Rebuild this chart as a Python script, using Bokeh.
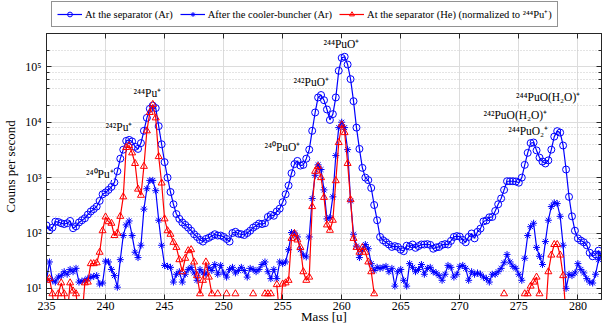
from bokeh.plotting import figure
from bokeh.layouts import column
from bokeh.models import (Range1d, LogAxis, LinearAxis, SingleIntervalTicker, LogTicker,
                          CustomJSTickFormatter, Legend, LegendItem, Label, ColumnDataSource)
from bokeh.embed import file_html
from bokeh.resources import INLINE

NaN = float("nan")

# mass scan [u]
mass = [
    235.0, 235.25, 235.5, 235.75, 236.0, 236.25, 236.5, 236.75, 237.0, 237.25,
    237.5, 237.75, 238.0, 238.25, 238.5, 238.75, 239.0, 239.25, 239.5, 239.75,
    240.0, 240.25, 240.5, 240.75, 241.0, 241.25, 241.5, 241.75, 242.0, 242.25,
    242.5, 242.75, 243.0, 243.25, 243.5, 243.75, 244.0, 244.25, 244.5, 244.75,
    245.0, 245.25, 245.5, 245.75, 246.0, 246.25, 246.5, 246.75, 247.0, 247.25,
    247.5, 247.75, 248.0, 248.25, 248.5, 248.75, 249.0, 249.25, 249.5, 249.75,
    250.0, 250.25, 250.5, 250.75, 251.0, 251.25, 251.5, 251.75, 252.0, 252.25,
    252.5, 252.75, 253.0, 253.25, 253.5, 253.75, 254.0, 254.25, 254.5, 254.75,
    255.0, 255.25, 255.5, 255.75, 256.0, 256.25, 256.5, 256.75, 257.0, 257.25,
    257.5, 257.75, 258.0, 258.25, 258.5, 258.75, 259.0, 259.25, 259.5, 259.75,
    260.0, 260.25, 260.5, 260.75, 261.0, 261.25, 261.5, 261.75, 262.0, 262.25,
    262.5, 262.75, 263.0, 263.25, 263.5, 263.75, 264.0, 264.25, 264.5, 264.75,
    265.0, 265.25, 265.5, 265.75, 266.0, 266.25, 266.5, 266.75, 267.0, 267.25,
    267.5, 267.75, 268.0, 268.25, 268.5, 268.75, 269.0, 269.25, 269.5, 269.75,
    270.0, 270.25, 270.5, 270.75, 271.0, 271.25, 271.5, 271.75, 272.0, 272.25,
    272.5, 272.75, 273.0, 273.25, 273.5, 273.75, 274.0, 274.25, 274.5, 274.75,
    275.0, 275.25, 275.5, 275.75, 276.0, 276.25, 276.5, 276.75, 277.0, 277.25,
    277.5, 277.75, 278.0, 278.25, 278.5, 278.75, 279.0, 279.25, 279.5, 279.75,
    280.0, 280.25, 280.5, 280.75, 281.0, 281.25, 281.5, 281.75, 282.0,
]

# At the separator (Ar) [counts/s]
sep_ar = [
    137, 112, 125, 160, 158, 150, 145, 150, 165, 122,
    132, 155, 170, 185, 215, 245, 270, 300, 380, 500,
    540, 600, 680, 820, 1300, 2200, 3200, 4600, 4800, 4500,
    3600, 3300, 4200, 7000, 12000, 17500, 20000, 18000, 8500, 4000,
    1900, 1000, 550, 330, 220, 180, 155, 140, 125, 110,
    95, 85, 75, 70, 78, 82, 88, 95, 90, 90,
    85, 78, 70, 100, 105, 97, 95, 92, 100, 110,
    125, 135, 148, 145, 150, 195, 212, 205, 245, 275,
    360, 500, 720, 1200, 1750, 2000, 1650, 1700, 2200, 3200,
    7000, 15000, 28000, 31000, 25000, 17000, 11000, 14000, 28000, 85000,
    145000, 152000, 110000, 60000, 24000, 8000, 3300, 1500, 1000, 900,
    650, 320, 170, 85, 74, 68, 62, 56, 58, 56,
    50, 47, 59, 57, 62, 54, 58, 62, 62, 63,
    61, 52, 55, 56, 61, 63, 62, 72, 85, 88,
    86, 75, 68, 85, 98, 80, 105, 120, 162, 168,
    192, 195, 250, 330, 420, 600, 860, 860, 860, 850,
    810, 1000, 1700, 2800, 4200, 4300, 3100, 2300, 1950, 1800,
    2050, 3200, 5500, 6900, 6500, 3800, 1400, 450, 200, 110,
    80, 73, 68, 60, 44, 38, 41, 48, 40,
]

# After the cooler-buncher (Ar) [counts/s]
cooler_ar = [
    14, 30, 14, 13, 16, 17, 20, 18, 22, 20,
    23, 13, 13.5, 14, 15, 16, 16.5, 17, 12, 12.5,
    31, 30, 22, 17, 10.5, 33, 90, 140, 165, 90,
    45, 36, 60, 270, 630, 890, 890, 580, 170, 60,
    26, 25, 24, 13, 18, 20, 13, 18, 22, 24,
    19, 14, 22, 19, 18, 24, 21, 27, 18, 26,
    19, 16, 22, 24, 19, 21, 24, 21, 16, 23,
    22, 20, 22, 27, 30, 20, 15, 22, 15, 30,
    28, 30, 50, 102, 100, 85, 50, 40, 37, 85,
    420, 1100, 1700, 1400, 600, 180, 190, 450, 2500, 8000,
    10000, 8000, 3200, 380, 95, 58, 36, 50, 62, 52,
    28, 21, 24, 23, 24, 25, 20, 23, 11, 20,
    22, 14, 11, 28, 24, 20, 22, 27, 18, 23,
    24, 20, 19, 17, 14, 18, 26, 24, 16, 18,
    25, 26, 23, 14, 20, 18, 19, 18, 16, 15,
    13, 18, 18, 20, 23, 29, 41, 30, 25, 23,
    18, 14, 35, 90, 130, 150, 55, 38, 27, 70,
    170, 300, 350, 340, 200, 60, 10, 18, 17, 19,
    28, 22, 19, 15, 13, 12.5, 18, 33, 40,
]

# At the separator (He), normalized to 244Pu+ [counts/s]; NaN = zero counts
sep_he = [
    14, 15, 8, 3, 8, 12.6, 8, 3, 12.6, 9,
    8, 3, 3, 12.6, 13, 28, 28, 29, 45, 110,
    195, 160, 150, 90, 100, 200, 450, 3500, 3800, 2800,
    1800, 620, 480, 1600, 7000, 15000, 21000, 12000, 2400, 800,
    180, 110, 95, 68, 55, 33, 20, 35, 48, 50,
    30, 17, 8, 14, 30, 16, 8, NaN, 8, NaN,
    NaN, 8, NaN, NaN, 8, NaN, NaN, NaN, NaN, NaN,
    8, NaN, NaN, NaN, 8, 8, 8, NaN, 11.7, 3,
    12, 12.6, 14, 80, 98, 75, 55, 20, 14, 16,
    300, 1300, 1600, 1000, 440, 140, 112, 170, 880, 4300,
    9000, 6500, 1800, 400, 80, 55, 45, 55, 45, 30,
    20, 8, NaN, NaN, NaN, NaN, NaN, NaN, NaN, NaN,
    NaN, NaN, NaN, NaN, NaN, NaN, NaN, NaN, NaN, NaN,
    NaN, NaN, NaN, NaN, NaN, NaN, NaN, NaN, NaN, NaN,
    NaN, NaN, NaN, NaN, NaN, NaN, NaN, NaN, NaN, NaN,
    NaN, NaN, NaN, NaN, NaN, 8, NaN, NaN, NaN, NaN,
    NaN, NaN, 8, 8, 11, 13, 16, 8, NaN, 3,
    20, 40, 62, 62, 40, 17, 3, NaN, NaN, NaN,
    NaN, NaN, NaN, NaN, NaN, NaN, NaN, NaN, NaN,
]

series_names = [
    "At the separator (Ar)",
    "After the cooler-buncher (Ar)",
    "At the separator (He) (normalized to \u00b2\u2074\u2074Pu\u207a)",
]

peak_labels = [
    "\u00b2\u2074\u2070Pu\u207a",
    "\u00b2\u2074\u00b2Pu\u207a",
    "\u00b2\u2074\u2074Pu\u207a",
    "\u00b2\u2074\u2070PuO\u207a",
    "\u00b2\u2074\u00b2PuO\u207a",
    "\u00b2\u2074\u2074PuO\u207a",
    "\u00b2\u2074\u00b2PuO(H\u2082O)\u207a",
    "\u00b2\u2074\u2074PuO\u2082\u207a",
    "\u00b2\u2074\u2074PuO(H\u2082O)\u207a",
]
peak_label_x = [240.69, 242.28, 244.71, 256.5, 258.92, 261.5, 277.4, 277.48, 280.2]
peak_label_y = [1164, 8150, 33900, 3530, 53300, 254000, 13700, 6820, 28800]

x_title = "Mass [u]"
y_title = "Couns per second"

FONT = "Liberation Serif"
BLUE = "#0000ff"
RED = "#ff0000"
DARK = "#262626"

styles = [
    dict(col="a", color=BLUE, marker="circle"),
    dict(col="b", color=BLUE, marker="asterisk"),
    dict(col="c", color=RED, marker="triangle"),
]

src = ColumnDataSource(dict(mass=mass, a=sep_ar, b=cooler_ar, c=sep_he))

W = 602
LEG_H = 30
MAIN_H = 296

# ---------------- main plot ----------------
p = figure(width=W, height=MAIN_H, x_range=Range1d(235, 282), y_range=Range1d(6.3, 4.0e5),
           y_axis_type="log", output_backend="svg", toolbar_location=None,
           min_border_left=46, min_border_right=1, min_border_top=3, min_border_bottom=24)
p.outline_line_color = DARK
p.outline_line_width = 1
p.background_fill_color = "white"
p.border_fill_color = "white"

xticker = SingleIntervalTicker(interval=5, num_minor_ticks=0)
yticker = LogTicker()
sup_fmt = CustomJSTickFormatter(code="""
const sup = {"0":"\u2070","1":"\u00b9","2":"\u00b2","3":"\u00b3","4":"\u2074","5":"\u2075",
             "6":"\u2076","7":"\u2077","8":"\u2078","9":"\u2079","-":"\u207b"};
const e = Math.round(Math.log10(tick));
return "10" + String(e).split("").map(c => sup[c]).join("");
""")
blank_fmt = CustomJSTickFormatter(code="return '';")

xa = p.xaxis[0]
xa.ticker = xticker
xa.axis_label = x_title
ya = p.yaxis[0]
ya.ticker = yticker
ya.formatter = sup_fmt
ya.axis_label = y_title

for ax in (xa, ya):
    ax.axis_line_color = DARK
    ax.major_tick_line_color = DARK
    ax.minor_tick_line_color = DARK
    ax.major_tick_in = 5
    ax.major_tick_out = 0
    ax.minor_tick_in = 3
    ax.minor_tick_out = 0
    ax.major_label_text_font = FONT
    ax.major_label_text_font_size = "12px"
    ax.major_label_text_color = "black"
    ax.axis_label_text_font = FONT
    ax.axis_label_text_font_size = "13px"
    ax.axis_label_text_font_style = "normal"
    ax.axis_label_text_color = "black"
xa.major_label_standoff = 2
xa.axis_label_standoff = -4
ya.major_label_standoff = 5
ya.axis_label_standoff = 4

top = LinearAxis(ticker=xticker, formatter=blank_fmt, major_tick_in=5, major_tick_out=0,
                 major_label_standoff=0, major_label_text_font_size="0px",
                 axis_line_color=DARK, major_tick_line_color=DARK)
right = LogAxis(ticker=yticker, formatter=blank_fmt, major_tick_in=5, major_tick_out=0,
                minor_tick_in=3, minor_tick_out=0, major_label_standoff=0,
                major_label_text_font_size="0px", axis_label_standoff=0,
                axis_line_color=DARK, major_tick_line_color=DARK, minor_tick_line_color=DARK)
p.add_layout(top, "above")
p.add_layout(right, "right")

p.xgrid.ticker = xticker
p.xgrid.grid_line_color = "#dcdcdc"
p.ygrid.grid_line_color = "#dcdcdc"
p.ygrid.minor_grid_line_color = "#c8c8c8"
p.ygrid.minor_grid_line_dash = "1 2"

for st in styles:
    p.line("mass", st["col"], source=src, line_color=st["color"], line_width=1.2)
    p.scatter("mass", st["col"], source=src, marker=st["marker"], size=7,
              line_color=st["color"], fill_color=None, line_width=1)

for t, x, y in zip(peak_labels, peak_label_x, peak_label_y):
    p.add_layout(Label(x=x, y=y, text=t, text_align="right", text_baseline="middle",
                       text_font=FONT, text_font_size="11.5px", text_color="black",
                       background_fill_color="white"))

# ---------------- legend strip above the plot ----------------
# (same series drawn again, but the strip's ranges keep them out of view,
#  so only their legend glyphs show)
lg = figure(width=W, height=LEG_H, x_range=Range1d(0, 1), y_range=Range1d(0, 1),
            output_backend="svg", toolbar_location=None,
            x_axis_location=None, y_axis_location=None,
            min_border_left=0, min_border_right=0, min_border_top=0, min_border_bottom=0)
lg.outline_line_color = None
lg.xgrid.visible = False
lg.ygrid.visible = False
items = []
for name, st in zip(series_names, styles):
    r1 = lg.line("mass", st["col"], source=src, line_color=st["color"], line_width=1.2)
    r2 = lg.scatter("mass", st["col"], source=src, marker=st["marker"], size=7,
                    line_color=st["color"], fill_color=None, line_width=1)
    items.append(LegendItem(label=name, renderers=[r1, r2]))
legend = Legend(items=items, orientation="horizontal", location=(5, 3),
                label_text_font=FONT, label_text_font_size="10.5px", label_text_color="black",
                glyph_width=25, glyph_height=12, label_height=12, label_standoff=3,
                spacing=7, padding=5, margin=0,
                border_line_color=DARK, border_line_width=1,
                background_fill_color="white", background_fill_alpha=1.0)
lg.add_layout(legend)

layout = column(lg, p, spacing=0)
open("out.html", "w").write(file_html(layout, INLINE))
